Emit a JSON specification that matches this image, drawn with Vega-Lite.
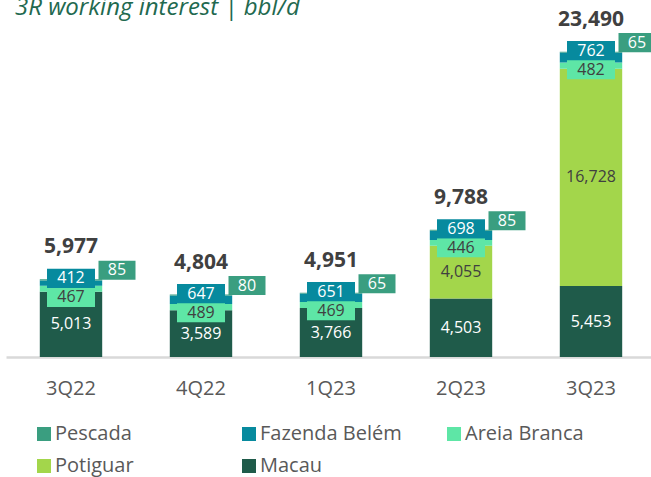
{
  "$schema": "https://vega.github.io/schema/vega-lite/v6.json",
  "width": 645,
  "height": 338,
  "autosize": {"type": "none"},
  "padding": {"left": 6, "right": 0, "top": 19, "bottom": 120},
  "background": "white",
  "config": {"view": {"stroke": null}, "font": "Open Sans"},
  "title": {
    "text": "3R working interest | bbl/d",
    "anchor": "start",
    "frame": "group",
    "font": "Open Sans",
    "fontSize": 24,
    "fontStyle": "italic",
    "fontWeight": "normal",
    "color": "#22694F",
    "offset": 4,
    "baseline": "alphabetic",
    "dx": 9,
    "dy": 34
  },
  "datasets": {
    "seg": [
      {"q": "3Q22", "series": "Macau", "v": 5013},
      {"q": "3Q22", "series": "Areia Branca", "v": 467},
      {"q": "3Q22", "series": "Fazenda Belém", "v": 412},
      {"q": "3Q22", "series": "Pescada", "v": 85},
      {"q": "4Q22", "series": "Macau", "v": 3589},
      {"q": "4Q22", "series": "Areia Branca", "v": 489},
      {"q": "4Q22", "series": "Fazenda Belém", "v": 647},
      {"q": "4Q22", "series": "Pescada", "v": 80},
      {"q": "1Q23", "series": "Macau", "v": 3766},
      {"q": "1Q23", "series": "Areia Branca", "v": 469},
      {"q": "1Q23", "series": "Fazenda Belém", "v": 651},
      {"q": "1Q23", "series": "Pescada", "v": 65},
      {"q": "2Q23", "series": "Macau", "v": 4503},
      {"q": "2Q23", "series": "Potiguar", "v": 4055},
      {"q": "2Q23", "series": "Areia Branca", "v": 446},
      {"q": "2Q23", "series": "Fazenda Belém", "v": 698},
      {"q": "2Q23", "series": "Pescada", "v": 85},
      {"q": "3Q23", "series": "Macau", "v": 5453},
      {"q": "3Q23", "series": "Potiguar", "v": 16728},
      {"q": "3Q23", "series": "Areia Branca", "v": 482},
      {"q": "3Q23", "series": "Fazenda Belém", "v": 762},
      {"q": "3Q23", "series": "Pescada", "v": 65}
    ],
    "tot": [
      {"q": "3Q22", "total": 5977},
      {"q": "4Q22", "total": 4804},
      {"q": "1Q23", "total": 4951},
      {"q": "2Q23", "total": 9788},
      {"q": "3Q23", "total": 23490}
    ]
  },
  "encoding": {
    "x": {
      "field": "q",
      "type": "nominal",
      "scale": {"domain": ["3Q22", "4Q22", "1Q23", "2Q23", "3Q23"], "range": [0, 650], "paddingInner": 0.52, "paddingOuter": 0.26},
      "axis": {"title": null, "labelAngle": 0, "ticks": false, "domainColor": "#D9D9D9", "domainWidth": 2.5, "labelFontSize": 20, "labelColor": "#595959", "labelFont": "Open Sans", "labelPadding": 31, "labelBaseline": "middle"}
    }
  },
  "layer": [
    {
      "data": {"name": "seg"},
      "transform": [{"calculate": "indexof(['Macau','Potiguar','Areia Branca','Fazenda Belém','Pescada'], datum.series)", "as": "rk"}],
      "mark": {"type": "bar"},
      "encoding": {
        "y": {"field": "v", "type": "quantitative", "stack": "zero", "scale": {"domain": [0, 26000]}, "axis": null},
        "color": {
          "field": "series",
          "type": "nominal",
          "scale": {"domain": ["Pescada", "Fazenda Belém", "Areia Branca", "Potiguar", "Macau"], "range": ["#3A9E80", "#078A9E", "#5EE6A6", "#A3D64B", "#1F5B4A"]},
          "legend": {"title": null, "orient": "none", "legendX": 28, "legendY": 405, "direction": "horizontal", "columns": 3, "symbolType": "square", "symbolSize": 196, "symbolStrokeWidth": 0, "symbolOpacity": 1, "labelFontSize": 20, "labelColor": "#595959", "labelFont": "Open Sans", "labelOffset": 1, "rowPadding": 12, "columnPadding": 42, "gridAlign": "all", "labelLimit": 300}
        },
        "order": {"field": "rk", "type": "quantitative", "sort": "ascending"}
      }
    },
    {
      "data": {"name": "seg"},
      "transform": [
        {"calculate": "indexof(['Macau','Potiguar','Areia Branca','Fazenda Belém','Pescada'], datum.series)", "as": "rk"},
        {"stack": "v", "groupby": ["q"], "sort": [{"field": "rk", "order": "ascending"}], "as": ["v0", "v1"]},
        {"filter": "datum.series === 'Macau' || datum.series === 'Potiguar'"},
        {"calculate": "(datum.v0 + datum.v1) / 2", "as": "mid"}
      ],
      "mark": {"type": "text", "fontSize": 16, "baseline": "middle", "font": "Open Sans"},
      "encoding": {
        "y": {"field": "mid", "type": "quantitative", "scale": {"domain": [0, 26000]}},
        "text": {"field": "v", "type": "quantitative", "format": ","},
        "color": {"condition": {"test": "datum.series === 'Macau'", "value": "#FFFFFF"}, "value": "#404040"}
      }
    },
    {
      "data": {"name": "seg"},
      "transform": [
        {"joinaggregate": [{"op": "sum", "field": "v", "as": "tot"}], "groupby": ["q"]},
        {"filter": "datum.series === 'Areia Branca'"}
      ],
      "mark": {"type": "point", "shape": "M-1,-0.4H1V0.4H-1Z", "size": 2304, "filled": true, "opacity": 1, "color": "#5EE6A6", "strokeWidth": 0, "yOffset": 18},
      "encoding": {"y": {"field": "tot", "type": "quantitative", "scale": {"domain": [0, 26000]}}}
    },
    {
      "data": {"name": "seg"},
      "transform": [
        {"joinaggregate": [{"op": "sum", "field": "v", "as": "tot"}], "groupby": ["q"]},
        {"filter": "datum.series === 'Areia Branca'"}
      ],
      "mark": {"type": "text", "fontSize": 16, "baseline": "middle", "font": "Open Sans", "color": "#404040", "dy": 18},
      "encoding": {
        "y": {"field": "tot", "type": "quantitative", "scale": {"domain": [0, 26000]}},
        "text": {"field": "v", "type": "quantitative", "format": ","}
      }
    },
    {
      "data": {"name": "seg"},
      "transform": [
        {"joinaggregate": [{"op": "sum", "field": "v", "as": "tot"}], "groupby": ["q"]},
        {"filter": "datum.series === 'Fazenda Belém'"}
      ],
      "mark": {"type": "point", "shape": "M-1,-0.4H1V0.4H-1Z", "size": 2304, "filled": true, "opacity": 1, "color": "#078A9E", "strokeWidth": 0, "yOffset": -1},
      "encoding": {"y": {"field": "tot", "type": "quantitative", "scale": {"domain": [0, 26000]}}}
    },
    {
      "data": {"name": "seg"},
      "transform": [
        {"joinaggregate": [{"op": "sum", "field": "v", "as": "tot"}], "groupby": ["q"]},
        {"filter": "datum.series === 'Fazenda Belém'"}
      ],
      "mark": {"type": "text", "fontSize": 16, "baseline": "middle", "font": "Open Sans", "color": "#FFFFFF", "dy": -1},
      "encoding": {
        "y": {"field": "tot", "type": "quantitative", "scale": {"domain": [0, 26000]}},
        "text": {"field": "v", "type": "quantitative", "format": ","}
      }
    },
    {
      "data": {"name": "seg"},
      "transform": [
        {"joinaggregate": [{"op": "sum", "field": "v", "as": "tot"}], "groupby": ["q"]},
        {"filter": "datum.series === 'Pescada'"}
      ],
      "mark": {"type": "point", "shape": "M-1,-0.514H1V0.514H-1Z", "size": 1369, "filled": true, "opacity": 1, "color": "#3A9E80", "strokeWidth": 0, "yOffset": -9, "xOffset": 46},
      "encoding": {"y": {"field": "tot", "type": "quantitative", "scale": {"domain": [0, 26000]}}}
    },
    {
      "data": {"name": "seg"},
      "transform": [
        {"joinaggregate": [{"op": "sum", "field": "v", "as": "tot"}], "groupby": ["q"]},
        {"filter": "datum.series === 'Pescada'"}
      ],
      "mark": {"type": "text", "fontSize": 16, "baseline": "middle", "font": "Open Sans", "color": "#FFFFFF", "dy": -9, "dx": 46},
      "encoding": {
        "y": {"field": "tot", "type": "quantitative", "scale": {"domain": [0, 26000]}},
        "text": {"field": "v", "type": "quantitative", "format": ","}
      }
    },
    {
      "data": {"name": "tot"},
      "mark": {"type": "text", "fontSize": 21, "fontWeight": "bold", "baseline": "middle", "font": "Open Sans", "color": "#404040", "dy": -32},
      "encoding": {
        "y": {"field": "total", "type": "quantitative", "scale": {"domain": [0, 26000]}},
        "text": {"field": "total", "type": "quantitative", "format": ","}
      }
    }
  ]
}
